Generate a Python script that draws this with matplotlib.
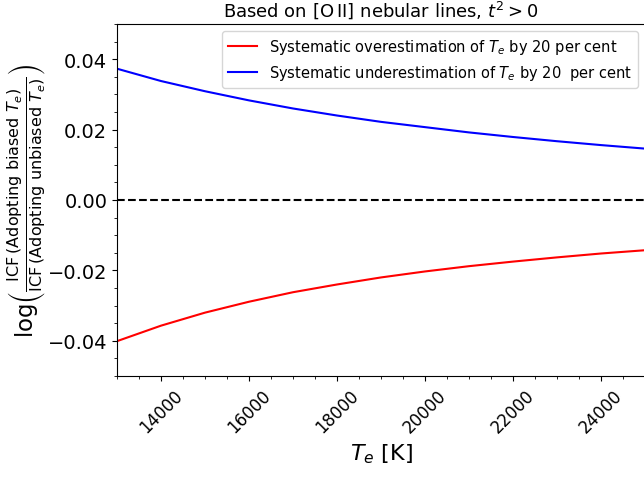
import matplotlib
matplotlib.use("Agg")
import matplotlib.pyplot as plt
from matplotlib.ticker import MultipleLocator

# Data
temperature = [13000, 14000, 15000, 16000, 17000, 18000, 19000,
               20000, 21000, 22000, 23000, 24000, 25000]
overestimation = [-0.0401, -0.0357, -0.0320, -0.0289, -0.0262, -0.0240, -0.0220,
                  -0.0203, -0.0188, -0.0175, -0.0163, -0.0152, -0.01427]
underestimation = [0.0373, 0.0338, 0.0309, 0.0283, 0.0260, 0.0240, 0.0222,
                   0.0207, 0.0192, 0.0179, 0.0167, 0.0156, 0.0146]
x_ticks = [14000, 16000, 18000, 20000, 22000, 24000]
y_ticks = [-0.04, -0.02, 0.00, 0.02, 0.04]

label_over = r'Systematic overestimation of $T_e$ by 20 per cent'
label_under = r'Systematic underestimation of $T_e$ by 20  per cent'

fig = plt.figure(figsize=(6.44, 4.81), dpi=100)
ax = fig.add_axes([117/644, 104/481, 528/644, 352/481])

ax.plot(temperature, overestimation, color='red', lw=1.5, label=label_over)
ax.plot(temperature, underestimation, color='blue', lw=1.5, label=label_under)
ax.axhline(0.0, color='black', ls='--', lw=1.5)

ax.set_xlim(13000, 25000)
ax.set_ylim(-0.05, 0.05)
ax.set_xticks(x_ticks)
ax.set_yticks(y_ticks)
ax.xaxis.set_minor_locator(MultipleLocator(500))
ax.yaxis.set_minor_locator(MultipleLocator(0.005))
ax.tick_params(axis='x', labelsize=12, labelrotation=45)
ax.tick_params(axis='y', labelsize=14)

ax.set_xlabel(r'$T_e$ [K]', fontsize=16)
ax.set_ylabel(r'$\mathrm{log}\left(\frac{\mathrm{ICF\,(Adopting\ biased}\ T_e\mathrm{)}}{\mathrm{ICF\,(Adopting\ unbiased}\ T_e\mathrm{)}}\right)$',
              fontsize=16.5, labelpad=0)
ax.set_title(r'Based on [O$\,$II] nebular lines, $t^2 > 0$', fontsize=13)

ax.legend(loc='upper right', fontsize=10.5)

fig.savefig('out.png', dpi=100)
